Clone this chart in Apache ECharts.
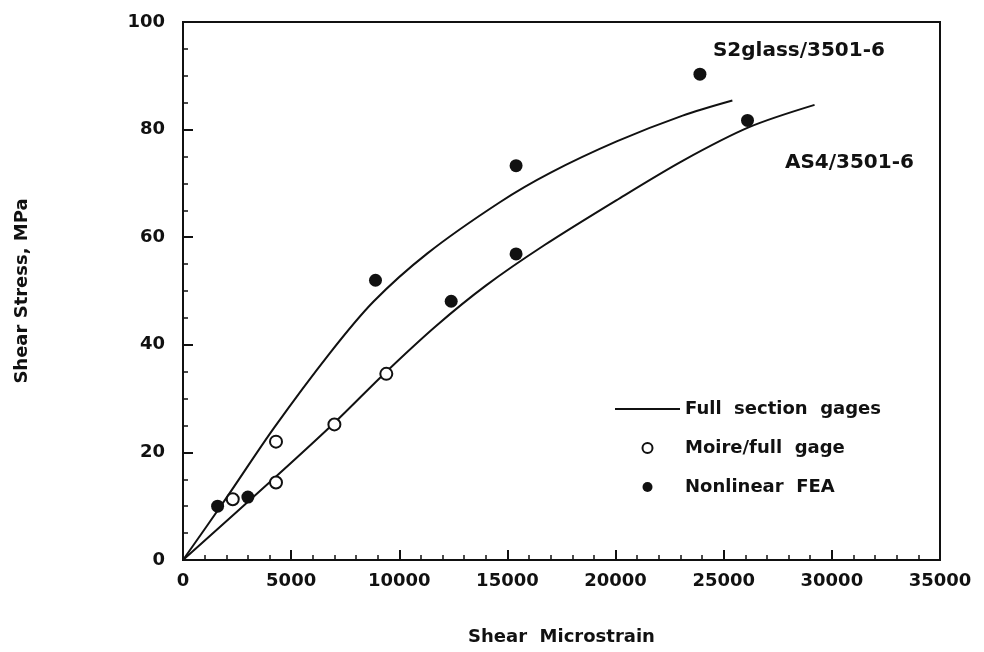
<!DOCTYPE html>
<html>
<head>
<meta charset="utf-8">
<script src="https://cdn.jsdelivr.net/npm/echarts@6/dist/echarts.min.js"></script>
<style>
  html, body { margin: 0; padding: 0; background: #fff; }
  #main { width: 984px; height: 652px; }
</style>
</head>
<body>
<div id="main"></div>
<script>
// fitted curves (full section gages)
var s2glassCurve = [[0, 0], [2000, 11.5], [4200, 24.5], [6800, 38.5], [8800, 48], [11300, 57],
    [14650, 66.5], [17000, 72], [20050, 77.8], [23100, 82.6], [25400, 85.4]];
var as4Curve = [[0, 0], [4300, 15.5], [7000, 25.5], [9400, 35], [11700, 43.5], [14000, 51],
    [16700, 58.5], [20050, 66.9], [23100, 74.2], [26200, 80.5], [29200, 84.6]];

// moire/full gage (open circles)
var moirePoints = [[2300, 11.3], [4300, 22], [4300, 14.4], [7000, 25.2], [9400, 34.6]];
// nonlinear FEA (filled circles)
var feaPoints = [[1600, 10], [3000, 11.7], [8900, 52], [12400, 48.1], [15400, 56.9],
    [15400, 73.3], [23900, 90.3], [26100, 81.7]];

// curve labels
var curveLabels = [
    { name: 'S2glass/3501-6', value: [24500, 94.6] },
    { name: 'AS4/3501-6', value: [27830, 73.8] }
];

var xTicks = { min: 0, max: 35000, interval: 5000 };
var yTicks = { min: 0, max: 100, interval: 20 };

var fontFam = '"DejaVu Sans", "Liberation Sans", Arial, sans-serif';
var ink = '#111';
var myChart = echarts.init(document.getElementById('main'));

var option = {
    animation: false,
    backgroundColor: '#fff',
    textStyle: { fontFamily: fontFam, color: ink },
    grid: {
        left: 183, right: 44, top: 22, bottom: 92,
        show: true, borderColor: ink, borderWidth: 2
    },
    legend: {
        orient: 'vertical',
        left: 610, top: 395,
        itemWidth: 65, itemHeight: 10, itemGap: 21,
        textStyle: { fontSize: 18, fontWeight: 'bold', color: ink, fontFamily: fontFam },
        data: [
            { name: 'Full  section  gages', icon: 'path://M0,0L65,0L65,2L0,2Z' },
            { name: 'Moire/full  gage', icon: 'circle' },
            { name: 'Nonlinear  FEA', icon: 'circle' }
        ]
    },
    xAxis: {
        type: 'value',
        min: xTicks.min, max: xTicks.max, interval: xTicks.interval,
        name: 'Shear  Microstrain',
        nameLocation: 'middle', nameGap: 68,
        nameTextStyle: { fontSize: 18, fontWeight: 'bold', color: ink },
        axisLine: { lineStyle: { color: ink, width: 2 } },
        axisTick: { inside: true, length: 10, lineStyle: { color: ink, width: 2 } },
        minorTick: { show: true, splitNumber: 5, length: 5, lineStyle: { color: ink, width: 1.5 } },
        axisLabel: {
            fontSize: 18, fontWeight: 'bold', color: ink, margin: 12,
            formatter: function (v) { return String(v); }
        },
        splitLine: { show: false }
    },
    yAxis: {
        type: 'value',
        min: yTicks.min, max: yTicks.max, interval: yTicks.interval,
        name: 'Shear Stress, MPa',
        nameLocation: 'middle', nameGap: 152,
        nameTextStyle: { fontSize: 18, fontWeight: 'bold', color: ink },
        axisLine: { lineStyle: { color: ink, width: 2 } },
        axisTick: { inside: true, length: 10, lineStyle: { color: ink, width: 2 } },
        minorTick: { show: true, splitNumber: 4, length: 5, lineStyle: { color: ink, width: 1.5 } },
        axisLabel: { fontSize: 18, fontWeight: 'bold', color: ink, margin: 18 },
        splitLine: { show: false }
    },
    series: [
        {
            name: 'Full  section  gages', type: 'line', data: s2glassCurve,
            smooth: 0.3, symbol: 'none',
            lineStyle: { color: ink, width: 2 }, itemStyle: { color: ink }
        },
        {
            name: 'Full  section  gages', type: 'line', data: as4Curve,
            smooth: 0.3, symbol: 'none',
            lineStyle: { color: ink, width: 2 }, itemStyle: { color: ink }
        },
        {
            name: 'Moire/full  gage', type: 'scatter', data: moirePoints,
            symbol: 'circle', symbolSize: 12, z: 5,
            itemStyle: { color: '#fff', borderColor: ink, borderWidth: 2, opacity: 1 }
        },
        {
            name: 'Nonlinear  FEA', type: 'scatter', data: feaPoints,
            symbol: 'circle', symbolSize: 13, z: 5,
            itemStyle: { color: ink, opacity: 1 }
        },
        {
            name: 'labels', type: 'scatter', data: curveLabels,
            symbolSize: 0, silent: true,
            itemStyle: { opacity: 1 },
            label: {
                show: true, position: 'right', distance: 0, opacity: 1,
                formatter: '{b}', fontSize: 20, fontWeight: 'bold', color: ink
            }
        }
    ]
};

myChart.setOption(option);
</script>
</body>
</html>
